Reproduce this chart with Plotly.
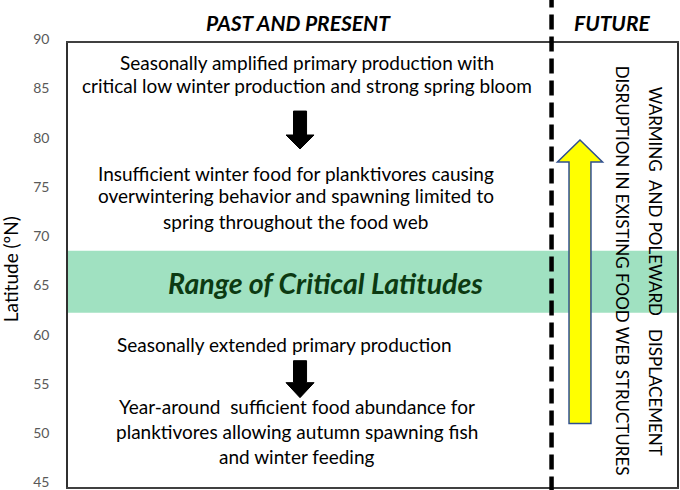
import plotly.graph_objects as go

# latitude axis
lat_ticks = [45, 50, 55, 60, 65, 70, 75, 80, 85, 90]
lat_range = [44.95, 90.02]

# range of critical latitudes (band)
critical_band = [62.64, 68.92]

# text lines on the "past and present" side, with the latitude they sit at
past_lines = [
    'Seasonally amplified primary production with',
    'critical low winter production and strong spring bloom',
    'Insufficient winter food for planktivores causing',
    'overwintering behavior and spawning limited to',
    'spring throughout the food web',
    'Seasonally extended primary production',
    'Year-around  sufficient food abundance for',
    'planktivores allowing autumn spawning fish',
    'and winter feeding',
]
past_lats = [88.07, 85.74, 76.82, 74.59, 71.86, 59.39, 53.11, 50.57, 48.04]
past_x = [0.392, 0.392, 0.374, 0.374, 0.374, 0.356, 0.376, 0.376, 0.376]

# black arrows: (top of shaft, head base, tip) in latitude
down_arrows = [(83.11, 80.68, 79.26), (57.77, 55.54, 54.02)]

# yellow future arrow: (bottom, head base, tip)
future_arrow = (51.39, 77.94, 80.17)

future_lines = [
    'WARMING&nbsp;&nbsp;AND POLEWARD&nbsp;&nbsp;&nbsp;DISPLACEMENT',
    'DISRUPTION IN EXISTING FOOD WEB STRUCTURES',
]

TXT = 'Lato'


def main():
    fig = go.Figure()
    fig.add_trace(go.Scatter(x=[0, 1], y=lat_range, mode='markers',
                             marker={'opacity': 0}, hoverinfo='skip', showlegend=False))

    shapes = []
    # green band
    shapes.append(dict(type='rect', xref='x', yref='y', x0=0, x1=1,
                       y0=critical_band[0], y1=critical_band[1],
                       fillcolor='#A0E1C1', line={'width': 0}, layer='below'))

    # black down arrows
    cx, sw, hw = 0.381, 0.0107, 0.023
    for top, base, tip in down_arrows:
        path = (f'M {cx-sw},{top} L {cx+sw},{top} L {cx+sw},{base} L {cx+hw},{base} '
                f'L {cx},{tip} L {cx-hw},{base} L {cx-sw},{base} Z')
        shapes.append(dict(type='path', xref='x', yref='y', path=path,
                           fillcolor='black', line={'color': 'black', 'width': 1}))

    # dashed separator
    shapes.append(dict(type='line', xref='x', yref='paper', x0=0.794, x1=0.794,
                       y0=-0.01, y1=1.1, line={'color': 'black', 'width': 4.5, 'dash': '15px,7px'}))

    # yellow arrow
    bot, base, tip = future_arrow
    ax, asw, ahw = 0.8407, 0.018, 0.037
    path = (f'M {ax-asw},{bot} L {ax+asw},{bot} L {ax+asw},{base} L {ax+ahw},{base} '
            f'L {ax},{tip} L {ax-ahw},{base} L {ax-asw},{base} Z')
    shapes.append(dict(type='path', xref='x', yref='y', path=path,
                       fillcolor='#FFFF00', line={'color': '#2F4F8F', 'width': 1.5}))

    annotations = []
    for txt, lat, x in zip(past_lines, past_lats, past_x):
        annotations.append(dict(x=x, y=lat, xref='x', yref='y', text=txt, showarrow=False,
                                xanchor='center', yanchor='middle',
                                font={'family': TXT, 'size': 19, 'color': 'black'}))

    annotations.append(dict(x=0.4236, y=65.68, xref='x', yref='y',
                            text='<b><i>Range of Critical Latitudes</i></b>', showarrow=False,
                            xanchor='center', yanchor='middle',
                            font={'family': TXT, 'size': 28.5, 'color': '#0C3A12'}))

    annotations.append(dict(x=0.964, y=66.89, xref='x', yref='y', text=future_lines[0],
                            textangle=90, showarrow=False, xanchor='center', yanchor='middle',
                            font={'family': TXT, 'size': 17, 'color': 'black'}))
    annotations.append(dict(x=0.910, y=66.89, xref='x', yref='y', text=future_lines[1],
                            textangle=90, showarrow=False, xanchor='center', yanchor='middle',
                            font={'family': TXT, 'size': 17, 'color': 'black'}))

    annotations.append(dict(x=0.379, y=1.047, xref='paper', yref='paper',
                            text='<b><i>PAST AND PRESENT</i></b>', showarrow=False,
                            xanchor='center', yanchor='middle',
                            font={'family': TXT, 'size': 21, 'color': 'black'}))
    annotations.append(dict(x=0.893, y=1.047, xref='paper', yref='paper',
                            text='<b><i>FUTURE</i></b>', showarrow=False,
                            xanchor='center', yanchor='middle',
                            font={'family': TXT, 'size': 21, 'color': 'black'}))

    # y axis title
    annotations.append(dict(x=-0.094, y=0.49, xref='paper', yref='paper',
                            text='Latitude (ºN)', textangle=-90, showarrow=False,
                            xanchor='center', yanchor='middle',
                            font={'family': TXT, 'size': 19, 'color': 'black'}))

    fig.update_layout(
        width=680, height=490,
        margin={'l': 68, 'r': 3, 't': 43, 'b': 3},
        paper_bgcolor='white', plot_bgcolor='white',
        shapes=shapes, annotations=annotations,
        showlegend=False,
    )
    fig.update_xaxes(range=[0, 1], showgrid=False, zeroline=False, showticklabels=False,
                     showline=True, mirror=True, linecolor='#404040', linewidth=1.5)
    fig.update_yaxes(range=lat_range, tickvals=lat_ticks, showgrid=False, zeroline=False,
                     showline=True, mirror=True, linecolor='#303030', linewidth=1.5,
                     ticks='outside', ticklen=14, tickcolor='rgba(0,0,0,0)', automargin=False,
                     ticklabeloverflow='allow', ticklabelshift=-4,
                     tickfont={'family': TXT, 'size': 14, 'color': '#595959'})

    fig.write_html('out.html', config={'displayModeBar': False},
                   post_script="document.body.style.margin='0';")


if __name__ == '__main__':
    main()
